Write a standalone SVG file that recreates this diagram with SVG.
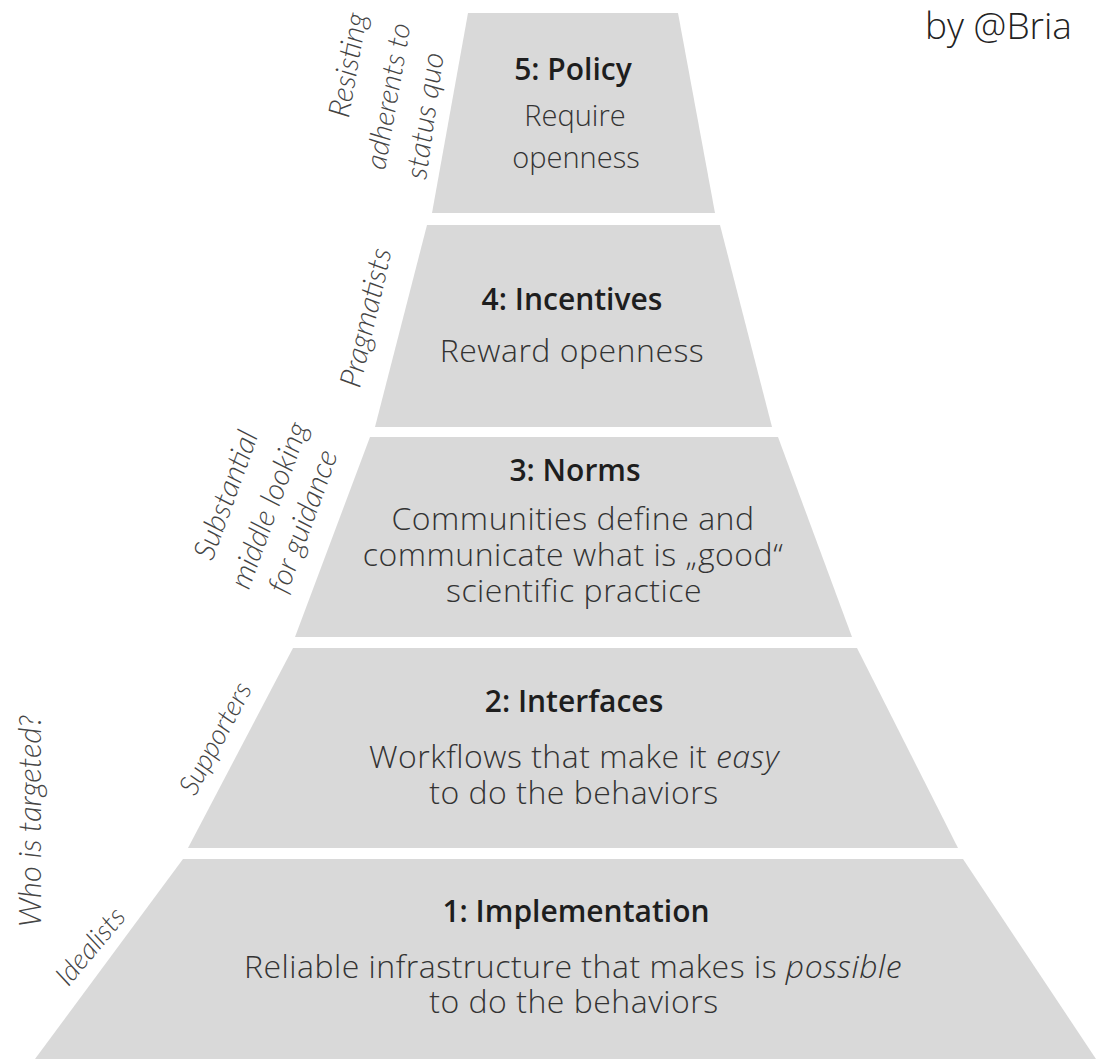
<svg xmlns="http://www.w3.org/2000/svg" width="1096" height="1059" viewBox="0 0 1096 1059">
<style>
.tier{fill:#d9d9d9;stroke:none}
.h{font-family:"Open Sans","Liberation Sans",sans-serif;font-weight:600;font-size:30px;fill:#1e1e1e;text-anchor:middle}
.b{font-family:"Open Sans","Liberation Sans",sans-serif;font-weight:300;font-size:32px;letter-spacing:0.5px;fill:#333;text-anchor:middle}
.lab{font-family:Lato,"Liberation Sans",sans-serif;font-style:italic;font-weight:300;font-size:30px;fill:#444;text-anchor:middle}
.by{font-family:"Open Sans","Liberation Sans",sans-serif;font-weight:300;font-size:37px;fill:#222}
</style>
<rect width="1096" height="1059" fill="#ffffff"/>
<g id="tier5">
<polygon class="tier" points="468,13 678,13 715,213 432,213"/>
<text class="h" x="573" y="80">5: Policy</text>
<text class="b" x="575" y="126" style="font-size:29px;letter-spacing:0">Require</text>
<text class="b" x="576" y="168" style="font-size:29px;letter-spacing:0">openness</text>
</g>
<g id="tier4">
<polygon class="tier" points="427,225 720,225 772,427 375,427"/>
<text class="h" x="572" y="310">4: Incentives</text>
<text class="b" x="572" y="362">Reward openness</text>
</g>
<g id="tier3">
<polygon class="tier" points="370,437 778,437 852,637 295,637"/>
<text class="h" x="575" y="481">3: Norms</text>
<text class="b" x="573" y="530">Communities define and</text>
<text class="b" x="573" y="566">communicate what is „good“</text>
<text class="b" x="574" y="602">scientific practice</text>
</g>
<g id="tier2">
<polygon class="tier" points="293,648 857,648 958,848 188,848"/>
<text class="h" x="574" y="712">2: Interfaces</text>
<text class="b" x="574" y="768">Workflows that make it <tspan font-style="italic">easy</tspan></text>
<text class="b" x="574" y="804">to do the behaviors</text>
</g>
<g id="tier1">
<polygon class="tier" points="183,859 963,859 1096,1059 35,1059"/>
<text class="h" x="576" y="922">1: Implementation</text>
<text class="b" x="573" y="978">Reliable infrastructure that makes is <tspan font-style="italic">possible</tspan></text>
<text class="b" x="574" y="1013">to do the behaviors</text>
</g>
<g id="labels">
<text class="lab" transform="translate(348,65) rotate(-80)" x="0" y="10">Resisting</text>
<text class="lab" transform="translate(388,96) rotate(-80)" x="0" y="10" style="font-size:29px">adherents to</text>
<text class="lab" transform="translate(427,116) rotate(-82)" x="0" y="8">status quo</text>
<text class="lab" transform="translate(368,318) rotate(-77)" x="0" y="8">Pragmatists</text>
<text class="lab" transform="translate(226,495) rotate(-70)" x="0" y="10">Substantial</text>
<text class="lab" transform="translate(271,506) rotate(-70)" x="0" y="8">middle looking</text>
<text class="lab" transform="translate(305,522) rotate(-70)" x="0" y="8">for guidance</text>
<text class="lab" transform="translate(215,738) rotate(-62)" x="0" y="10" style="font-size:28px">Supporters</text>
<text class="lab" transform="translate(90,946) rotate(-50)" x="0" y="10" style="font-size:28px">Idealists</text>
<text class="lab" transform="translate(33,821) rotate(-90)" x="0" y="8" style="font-size:31px">Who is targeted?</text>
</g>
<g id="credit">
<text class="by" x="925" y="39">by @Bria</text>
</g>
<g id="connectors"></g>
</svg>
